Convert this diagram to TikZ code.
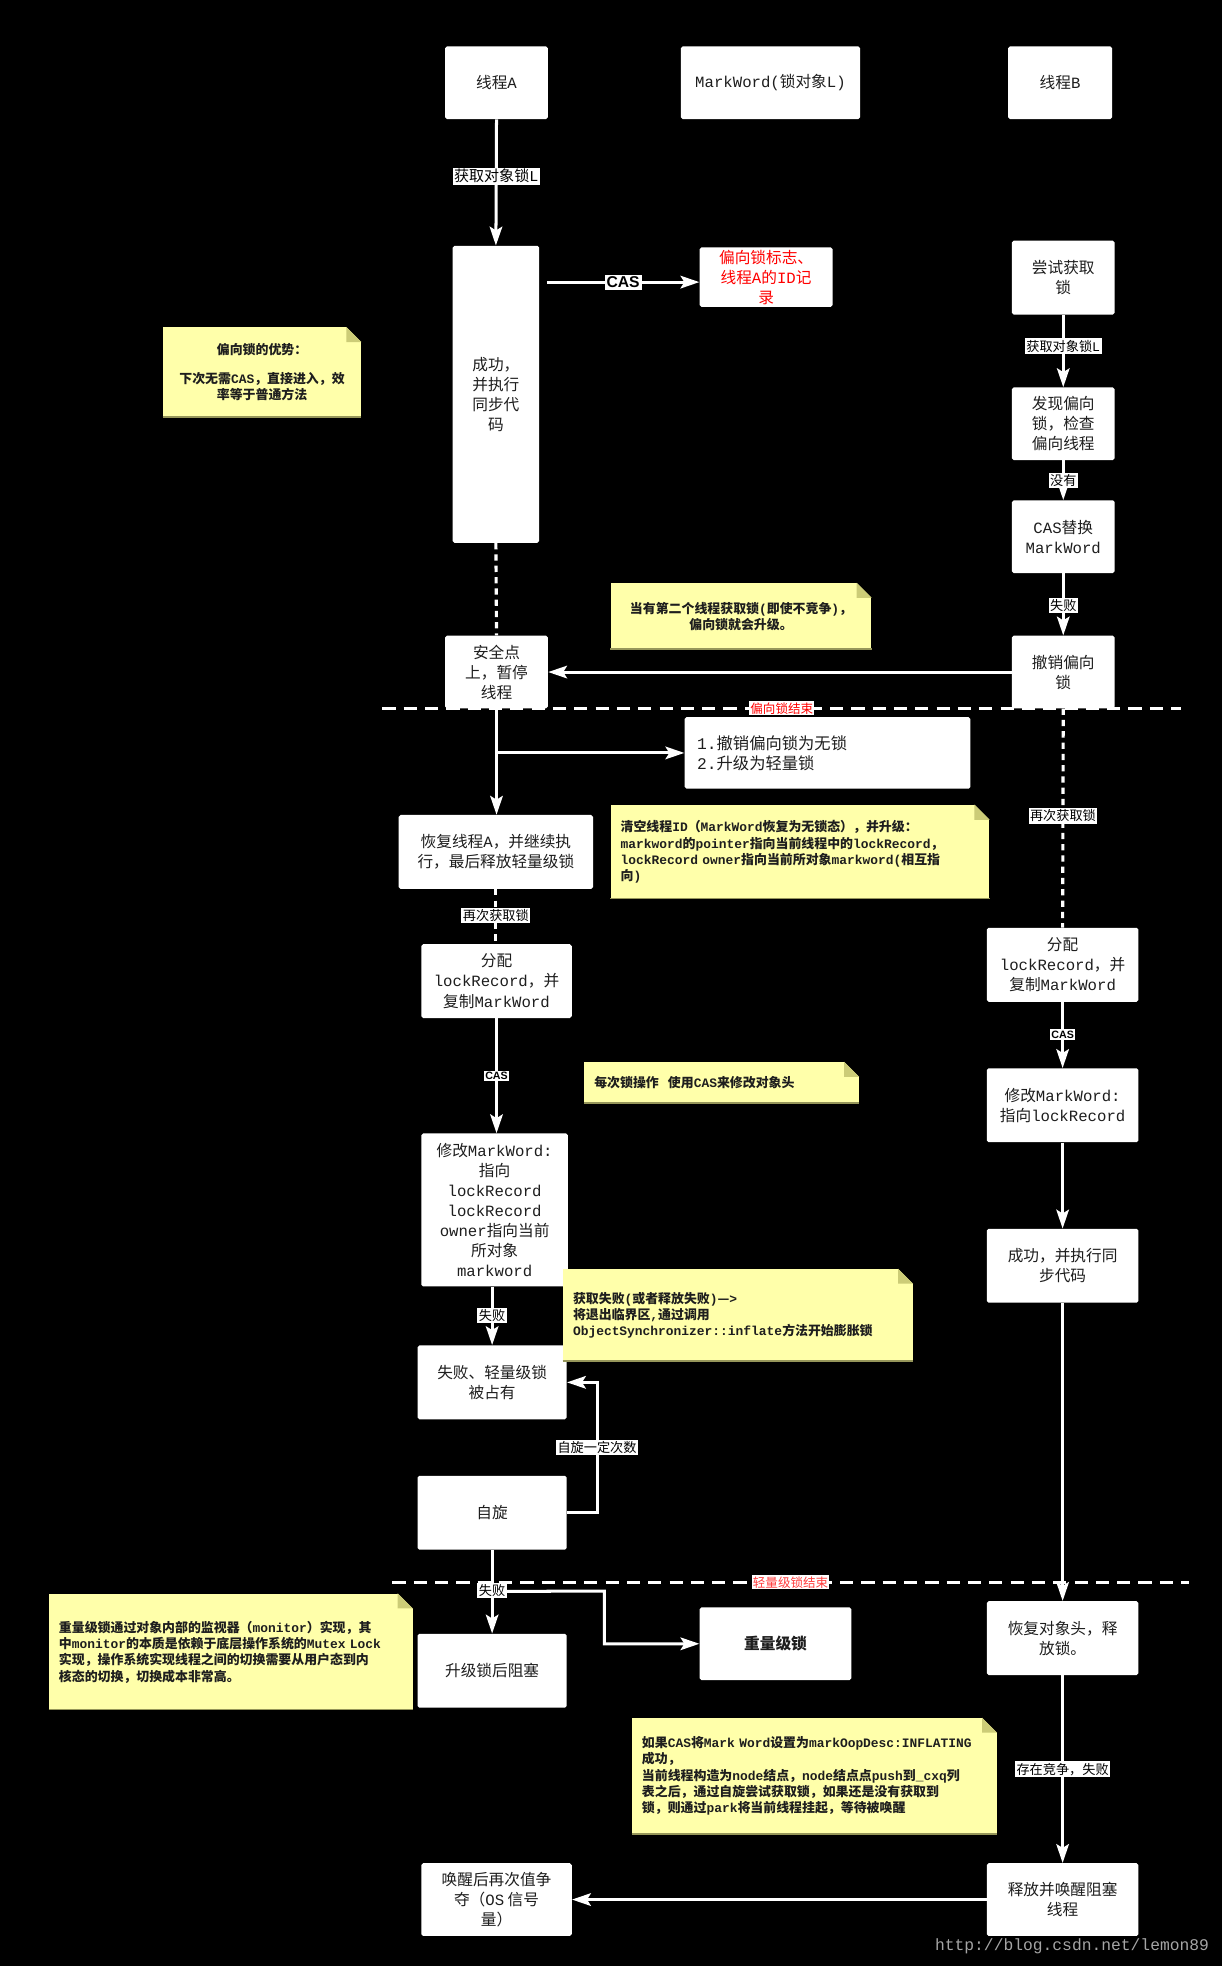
\documentclass[tikz,border=0pt]{standalone}
\usepackage{fontspec}
\setmainfont{Noto Sans CJK SC}
\newfontfamily\latf{Liberation Mono}
\newfontfamily\arialf{Liberation Sans}
\usetikzlibrary{arrows.meta,calc}
\newcommand\Lat[1]{{\latf #1}}
\definecolor{notey}{RGB}{255,255,170}
\definecolor{foldc}{RGB}{204,204,119}
\definecolor{noteshade}{RGB}{150,150,90}
\definecolor{boxtxt}{RGB}{30,30,30}
\definecolor{notetxt}{RGB}{30,30,30}
\definecolor{wmgray}{RGB}{165,165,165}
\definecolor{lred}{RGB}{255,60,60}
\newcommand\notefold[1]{%
  \fill[black] ([xshift=-12pt]#1.north east) -- (#1.north east) -- ([yshift=-12pt]#1.north east) -- cycle;
  \fill[foldc] ([xshift=-12pt]#1.north east) -- ([xshift=-12pt,yshift=-12pt]#1.north east) -- ([yshift=-12pt]#1.north east) -- cycle;
  \draw[noteshade, line width=1.2pt] ([yshift=0.6pt]#1.south west) -- ([yshift=0.6pt]#1.south east);}
\tikzset{
  box/.style={fill=white, rounded corners=1.5pt, text=boxtxt, align=center, inner sep=2pt,
    font=\fontsize{12.5}{16}\selectfont},
  arr/.style={draw=white, line width=2.4pt, -{Stealth[length=15pt,width=10pt,inset=3pt]}},
  vdot/.style={draw=white, line width=2.5pt, dash pattern=on 5pt off 4pt},
  hdash/.style={draw=white, line width=2.5pt, dash pattern=on 10.5pt off 6.5pt},
  lbl/.style={fill=white, text=black, inner sep=1.2pt, font=\fontsize{10.5}{12}\selectfont},
  biglbl/.style={fill=white, text=black, inner sep=1.2pt, font=\fontsize{12}{14}\selectfont},
  caslbl/.style={fill=white, text=black, inner sep=1.2pt, font=\arialf\bfseries\fontsize{8.5}{10}\selectfont},
  casbig/.style={fill=white, text=black, inner sep=1.5pt, font=\arialf\bfseries\fontsize{12.5}{14}\selectfont},
  redlbl/.style={fill=white, inner sep=1pt, font=\fontsize{10}{12}\selectfont},
  note/.style={fill=notey, text=notetxt, inner xsep=8pt, inner ysep=0pt,
    font=\bfseries\fontsize{10.3}{13}\selectfont},
}
\begin{document}
\begin{tikzpicture}[x=1pt,y=-1pt]
\useasboundingbox (0,0) rectangle (975,1568);
\fill[black] (0,0) rectangle (975,1568);

% ---- boxes ----
\node[box, minimum width=82pt, minimum height=58pt] (tA) at (396,66) {线程\Lat{A}};
\node[box, minimum width=143pt, minimum height=58pt] (mw) at (614.5,66) {\Lat{MarkWord(}锁对象\Lat{L)}};
\node[box, minimum width=83pt, minimum height=58pt] (tB) at (845.5,66) {线程\Lat{B}};
\node[box, minimum width=69pt, minimum height=237pt] (succA) at (395.5,314.5) {成功，\\并执行\\同步代\\码};
\node[box, text=red, minimum width=106pt, minimum height=46pt] (rb) at (611,221) {偏向锁标志、\\线程\Lat{A}的\Lat{ID}记\\录};
\node[box, minimum width=82pt, minimum height=59pt] (try) at (848,221.5) {尝试获取\\锁};
\node[box, minimum width=82pt, minimum height=58pt] (find) at (848,338) {发现偏向\\锁，检查\\偏向线程};
\node[box, minimum width=82pt, minimum height=58pt] (casrep) at (848,428) {\Lat{CAS}替换\\\Lat{MarkWord}};
\node[box, minimum width=82pt, minimum height=58pt] (revoke) at (848,536) {撤销偏向\\锁};
\node[box, minimum width=82pt, minimum height=58pt] (safe) at (396,536) {安全点\\上，暂停\\线程};
\node[box, align=left, text width=208pt, inner xsep=10pt, minimum height=57pt,
  font=\fontsize{13}{16}\selectfont] (one2) at (660,600.5) {\Lat{1.}撤销偏向锁为无锁\\\Lat{2.}升级为轻量锁};
\node[box, minimum width=155pt, minimum height=59pt] (resume) at (395.5,679.5) {恢复线程\Lat{A}，并继续执\\行，最后释放轻量级锁};
\node[box, minimum width=120pt, minimum height=59pt] (allocL) at (396,782.5) {分配\\\Lat{lockRecord}，并\\复制\Lat{MarkWord}};
\node[box, minimum width=117pt, minimum height=122pt] (modL) at (394.5,965) {修改\Lat{MarkWord:}\\指向\\\Lat{lockRecord}\\\Lat{lockRecord}\\\Lat{owner}指向当前\\所对象\\\Lat{markword}};
\node[box, minimum width=119pt, minimum height=59pt] (failL) at (392.5,1102.5) {失败、轻量级锁\\被占有};
\node[box, minimum width=119pt, minimum height=59pt] (spin) at (392.5,1206.5) {自旋};
\node[box, minimum width=119pt, minimum height=59pt] (block) at (392.5,1332.5) {升级锁后阻塞};
\node[box, minimum width=121pt, minimum height=58pt] (heavy) at (618.5,1311) {\bfseries 重量级锁};
\node[box, minimum width=121pt, minimum height=59pt] (allocR) at (847.5,769.5) {分配\\\Lat{lockRecord}，并\\复制\Lat{MarkWord}};
\node[box, minimum width=121pt, minimum height=59pt] (modR) at (847.5,881.5) {修改\Lat{MarkWord:}\\指向\Lat{lockRecord}};
\node[box, minimum width=121pt, minimum height=59pt] (succR) at (847.5,1009.5) {成功，并执行同\\步代码};
\node[box, minimum width=121pt, minimum height=59pt] (restore) at (847.5,1306.5) {恢复对象头，释\\放锁。};
\node[box, minimum width=121pt, minimum height=58pt] (release) at (847.5,1515) {释放并唤醒阻塞\\线程};
\node[box, minimum width=120pt, minimum height=58pt] (wake) at (396,1515) {唤醒后再次值争\\夺（\Lat{OS} 信号\\量）};

% ---- notes ----
\node[note, text width=142pt, minimum height=72pt, align=center] (n1) at (209,297)
  {偏向锁的优势：\\[10pt]下次无需\Lat{CAS}，直接进入，效\\率等于普通方法};
\notefold{n1}
\node[note, text width=192pt, minimum height=53pt, align=center] (n2) at (591,491.5)
  {当有第二个线程获取锁\Lat{(}即使不竞争\Lat{)}，\\偏向锁就会升级。};
\notefold{n2}
\node[note, text width=286pt, minimum height=75pt, align=left] (n3) at (638,679.5)
  {清空线程\Lat{ID}（\Lat{MarkWord}恢复为无锁态），并升级：\\\Lat{markword}的\Lat{pointer}指向当前线程中的\Lat{lockRecord}，\\\Lat{lockRecord owner}指向当前所对象\Lat{markword(}相互指\\向\Lat{)}};
\notefold{n3}
\node[note, text width=203pt, minimum height=33pt, align=left] (n4) at (575.5,863.5)
  {每次锁操作\hspace{0.7em}使用\Lat{CAS}来修改对象头};
\notefold{n4}
\node[note, text width=263pt, minimum height=74pt, align=left] (n5) at (588.5,1049)
  {获取失败\Lat{(}或者释放失败\Lat{)}—\Lat{>}\\将退出临界区\Lat{,}通过调用\\\Lat{ObjectSynchronizer::inflate}方法开始膨胀锁};
\notefold{n5}
\node[note, text width=274pt, minimum height=93pt, align=left] (n6) at (184,1317.5)
  {重量级锁通过对象内部的监视器（\Lat{monitor}）实现，其\\中\Lat{monitor}的本质是依赖于底层操作系统的\Lat{Mutex Lock}\\实现，操作系统实现线程之间的切换需要从用户态到内\\核态的切换，切换成本非常高。};
\notefold{n6}
\node[note, text width=275pt, minimum height=93pt, align=left] (n7) at (649.5,1416.5)
  {如果\Lat{CAS}将\Lat{Mark Word}设置为\Lat{markOopDesc:INFLATING}\\成功，\\当前线程构造为\Lat{node}结点，\Lat{node}结点点\Lat{push}到\Lat{\_cxq}列\\表之后，通过自旋尝试获取锁，如果还是没有获取到\\锁，则通过\Lat{park}将当前线程挂起，等待被唤醒};
\notefold{n7}

% ---- connectors ----
\draw[arr] (tA.south) -- (succA.north) node[pos=0.45, biglbl] {获取对象锁\Lat{L}};
\coordinate (casA) at ($(succA.east |- rb.west)+(6,4)$);
\coordinate (casB) at ($(rb.west)+(0,4)$);
\draw[arr] (casA) -- (casB) node[midway, casbig] {CAS};
\draw[arr] (try.south) -- (find.north) node[pos=0.43, lbl] {获取对象锁\Lat{L}};
\draw[arr] (find.south) -- (casrep.north) node[pos=0.5, lbl] {没有};
\draw[arr] (casrep.south) -- (revoke.north) node[pos=0.52, lbl] {失败};
\draw[arr] (revoke.west) -- (safe.east);
\draw[vdot] (succA.south) -- (safe.north);
\draw[arr] (safe.south) -- (safe.south |- resume.north);
\draw[arr] (safe.south |- one2.west) -- (one2.west);
\draw[vdot] (revoke.south) -- (allocR.north) node[pos=0.49, lbl] {再次获取锁};
\draw[vdot] (resume.south) -- (resume.south |- allocL.north) node[pos=0.48, lbl] {再次获取锁};
\draw[arr] (allocL.south) -- (allocL.south |- modL.north) node[pos=0.5, caslbl] {CAS};
\draw[arr] (allocR.south) -- (modR.north) node[pos=0.49, caslbl] {CAS};
\draw[arr] (modR.south) -- (succR.north);
\draw[arr] (succR.south) -- (restore.north);
\draw[arr] (restore.south) -- (release.north) node[pos=0.5, lbl] {存在竞争，失败};
\draw[arr] (release.west) -- (wake.east);
\draw[arr] (failL.north |- modL.south) -- (failL.north) node[pos=0.49, lbl] {失败};
\coordinate (loopR) at ($(spin.east)+(24,0)$);
\draw[arr] (spin.east) -- (loopR) -- (loopR |- failL.east) node[midway, lbl] {自旋一定次数} -- (failL.east);
\coordinate (fb) at ($(spin.south)+(0,33)$);
\coordinate (fbr) at (482,1269);
\draw[arr] (fb) -- (fbr) |- (heavy.west);
\draw[arr] (spin.south) -- (block.north) node[pos=0.49, lbl] {失败};

% ---- phase separators ----
\coordinate (h1a) at (305,565);
\coordinate (h1b) at (942,565);
\draw[hdash] (h1a) -- (h1b) node[pos=0.5, redlbl, text=red] {偏向锁结束};
\coordinate (h2a) at (313,1262);
\coordinate (h2b) at (948,1262);
\draw[hdash] (h2a) -- (h2b) node[pos=0.5, redlbl, text=lred] {轻量级锁结束};

% ---- watermark ----
\node[text=wmgray, font=\latf\fontsize{13}{15}\selectfont] (wm) at (855,1552) {http://blog.csdn.net/lemon89};
\end{tikzpicture}
\end{document}
